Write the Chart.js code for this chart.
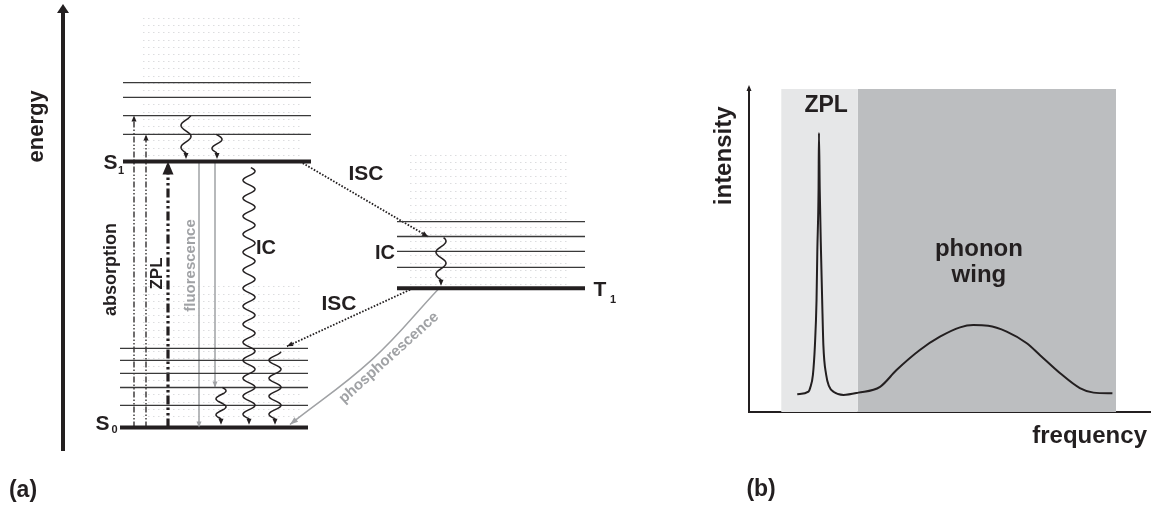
<!DOCTYPE html>
<html>
<head>
<meta charset="utf-8">
<title>Jablonski diagram and emission spectrum</title>
<script src="https://cdn.jsdelivr.net/npm/chart.js@4.4.1/dist/chart.umd.min.js"></script>
<style>
  html, body { margin: 0; padding: 0; background: #fff; }
  .panel { position: absolute; top: 0; }
  #panelA { left: 0; }
  #panelB { left: 690px; }
</style>
</head>
<body>
<canvas id="panelA" class="panel" width="690" height="506"></canvas>
<canvas id="panelB" class="panel" width="461" height="506"></canvas>
<script>
/* (a) Jablonski diagram and (b) ZPL + phonon-wing emission spectrum. */

// ---- (a) electronic levels, energies in units of the S0 -> S1 gap ----
const S0 = 0, S1 = 1.0, T1 = 0.523;
const s0Vib = [0.083, 0.150, 0.203, 0.252, 0.297];
const s1Vib = [1.102, 1.173, 1.241, 1.297];
const t1Vib = [0.602, 0.662, 0.718, 0.774];
// vibrational quasi-continuum [bottom, top]
const s0Band = [0.03, 0.53];
const s1Band = [1.015, 1.54];
const t1Band = [0.53, 1.026];

// ---- (b) spectrum, arbitrary frequency / intensity units ----
const freq = [12.0, 14.8, 15.2, 15.9, 16.4, 16.8, 17.0, 17.3, 17.4, 17.6, 17.9, 18.2, 18.5, 19.2, 19.9, 21.1,
              23.5, 27.2, 32.6, 36.7, 42.5, 47.5, 52.5, 55.8, 59.5, 64.1, 69.1, 72.4, 77.4, 82.3, 85.7, 90.4];
const intensity = [0.055, 0.063, 0.074, 0.115, 0.207, 0.347, 0.502, 0.687, 0.864, 0.687, 0.502, 0.347, 0.207, 0.115, 0.080, 0.062,
                   0.053, 0.060, 0.078, 0.130, 0.192, 0.233, 0.262, 0.269, 0.267, 0.249, 0.213, 0.176, 0.120, 0.074, 0.060, 0.058];
const zplBand = [8.0, 27.1];
const wingBand = [27.1, 91.3];

const INK = "#231f20";
const GREY = "#a0a2a5";
const FONT = "'Liberation Sans', Arial, Helvetica, sans-serif";

// layout of the diagram (x in diagram units, 1 unit = 1px right of the energy axis)
const L = {
  s0: [57, 245], s1: [60, 248], t1: [334, 522],
  dotsS: [80, 235], dotsT: [347, 504],
  absX: [71, 83], zplX: 105, fluX: [136, 152],
  isc1: [237, 365], isc2: [350, 224],
  phos: [375, 309, 227]
};

function seg(points, style) {
  return Object.assign({
    type: "line", data: points, pointRadius: 0, borderWidth: 1.3, borderColor: INK,
    fill: false, clip: false, tension: 0
  }, style || {});
}
const level = (span, E, thick) => seg([{ x: span[0], y: E }, { x: span[1], y: E }],
  thick ? { borderWidth: 4 } : { borderWidth: 1.3, borderColor: "#3a3a3a" });

const dsA = [];
[[L.s0, S0], [L.s1, S1], [L.t1, T1]].forEach(([sp, E]) => dsA.push(level(sp, E, true)));
s0Vib.forEach(E => dsA.push(level(L.s0, E)));
s1Vib.forEach(E => dsA.push(level(L.s1, E)));
t1Vib.forEach(E => dsA.push(level(L.t1, E)));

// absorption (thin dash-dot-dot) and zero-phonon line
const absTo = [s1Vib[1], s1Vib[0]];
L.absX.forEach((x, i) => dsA.push(seg([{ x, y: S0 }, { x, y: absTo[i] }],
  { borderDash: [6, 2, 1.5, 2, 1.5, 2], head: [6, 5] })));
dsA.push(seg([{ x: L.zplX, y: S0 }, { x: L.zplX, y: S1 }],
  { borderWidth: 3.2, borderDash: [9, 3, 2.5, 3, 2.5, 3], head: [13, 11] }));

// fluorescence
const fluTo = [S0, s0Vib[1]];
L.fluX.forEach((x, i) => dsA.push(seg([{ x, y: S1 }, { x, y: fluTo[i] }],
  { borderColor: GREY, borderWidth: 1.5, head: [6, 5] })));

// intersystem crossing
dsA.push(seg([{ x: L.isc1[0], y: S1 }, { x: L.isc1[1], y: t1Vib[2] }],
  { borderWidth: 1.8, borderDash: [1.6, 1.6], head: [6, 5] }));
dsA.push(seg([{ x: L.isc2[0], y: T1 }, { x: L.isc2[1], y: 0.305 }],
  { borderWidth: 1.8, borderDash: [1.6, 1.6], head: [6, 5] }));

// phosphorescence
dsA.push(seg([{ x: L.phos[0], y: 0.519 }, { x: L.phos[1], y: 0.255 }, { x: L.phos[2], y: 0.011 }],
  { borderColor: GREY, borderWidth: 1.5, tension: 0.4, head: [8, 6] }));

// internal conversion / vibrational relaxation (wavy arrows)
const waves = [
  { x: 123, from: s1Vib[1], to: S1 + 0.01, amp: 5, wl: 22 },
  { x: 154, from: s1Vib[0], to: S1 + 0.01, amp: 5, wl: 18 },
  { x: 186, from: 0.977, to: S0 + 0.01, amp: 6, wl: 18 },
  { x: 158, from: s0Vib[1], to: S0 + 0.01, amp: 5, wl: 16 },
  { x: 212, from: 0.285, to: S0 + 0.01, amp: 6, wl: 18 },
  { x: 378, from: 0.714, to: T1 + 0.01, amp: 5, wl: 22 }
];

const labelsA = [
  { t: "energy", x: -26, y: 1.132, size: 22, rot: -90 },
  { t: "absorption", x: 48, y: 0.594, size: 18, rot: -90 },
  { t: "ZPL", x: 94, y: 0.579, size: 17, rot: -90 },
  { t: "fluorescence", x: 128, y: 0.609, size: 15, rot: -90, color: GREY },
  { t: "IC", x: 203, y: 0.673, size: 20 },
  { t: "ISC", x: 303, y: 0.951, size: 21 },
  { t: "IC", x: 322, y: 0.654, size: 20 },
  { t: "ISC", x: 276, y: 0.462, size: 21 },
  { t: "phosphorescence", x: 326, y: 0.262, size: 15, rot: -42, color: GREY },
  { t: "S", x: 47.5, y: 0.992, size: 21 }, { t: "1", x: 58, y: 0.966, size: 11 },
  { t: "S", x: 39.5, y: 0.011, size: 21 }, { t: "0", x: 51.5, y: -0.011, size: 11 },
  { t: "T", x: 537, y: 0.515, size: 21 }, { t: "1", x: 550, y: 0.481, size: 11 },
  { t: "(a)", x: -40, y: -0.237, size: 23 }
];

const labelsB = [
  { t: "ZPL", x: 19.2, y: 0.947, size: 23 },
  { t: "phonon", x: 57.2, y: 0.505, size: 24 },
  { t: "wing", x: 57.2, y: 0.424, size: 24 },
  { t: "intensity", x: -6.2, y: 0.793, size: 24, rot: -90 },
  { t: "frequency", x: 99.0, y: -0.077, size: 24, align: "right" },
  { t: "(b)", x: 3.0, y: -0.241, size: 23 }
];

function head(ctx, x, y, ang, len, w, color) {
  ctx.save();
  ctx.translate(x, y); ctx.rotate(ang);
  ctx.beginPath(); ctx.moveTo(0, 0); ctx.lineTo(-len, -w / 2); ctx.lineTo(-len, w / 2); ctx.closePath();
  ctx.fillStyle = color; ctx.fill();
  ctx.restore();
}

function drawLabels(chart, list) {
  const { ctx, scales: { x, y } } = chart;
  list.forEach(l => {
    ctx.save();
    ctx.translate(x.getPixelForValue(l.x), y.getPixelForValue(l.y));
    if (l.rot) ctx.rotate(l.rot * Math.PI / 180);
    ctx.font = `bold ${l.size}px ${FONT}`;
    ctx.fillStyle = l.color || INK;
    ctx.textAlign = l.align || "center";
    ctx.textBaseline = "middle";
    ctx.fillText(l.t, 0, 0);
    ctx.restore();
  });
}

// light dotted texture for the vibrational continuum
function drawDots(chart, band, span) {
  const { ctx, scales: { x, y } } = chart;
  const x0 = x.getPixelForValue(span[0]), x1 = x.getPixelForValue(span[1]);
  const top = y.getPixelForValue(band[1]), bot = y.getPixelForValue(band[0]);
  ctx.save();
  ctx.fillStyle = "#dcdddf";
  for (let py = top; py <= bot; py += 7.2)
    for (let px = x0; px <= x1; px += 5) ctx.fillRect(Math.round(px), Math.round(py), 1.5, 1);
  ctx.restore();
}

function drawWave(chart, w) {
  const { ctx, scales: { x, y } } = chart;
  const cx = x.getPixelForValue(w.x);
  const y0 = y.getPixelForValue(w.from), y1 = y.getPixelForValue(w.to);
  const hl = 6, stem = y1 - hl - y0;
  ctx.save();
  ctx.beginPath();
  for (let t = 0; t <= stem; t += 0.5) {
    const px = cx + w.amp * Math.sin(2 * Math.PI * (t - stem) / w.wl);
    if (t === 0) ctx.moveTo(px, y0 + t); else ctx.lineTo(px, y0 + t);
  }
  ctx.lineTo(cx, y1 - hl + 1);
  ctx.strokeStyle = INK; ctx.lineWidth = 1.5; ctx.stroke();
  ctx.restore();
  head(ctx, cx, y1, Math.PI / 2, hl, 5, INK);
}

const diagramExtras = {
  id: "diagramExtras",
  beforeDatasetsDraw(chart) {
    drawDots(chart, s1Band, L.dotsS);
    drawDots(chart, s0Band, L.dotsS);
    drawDots(chart, t1Band, L.dotsT);
  },
  afterDatasetsDraw(chart) {
    const { ctx, chartArea } = chart;
    chart.data.datasets.forEach((ds, i) => {
      if (!ds.head) return;
      const pts = chart.getDatasetMeta(i).data;
      const end = pts[pts.length - 1], prev = pts[pts.length - 2];
      const fx = end.cp1x !== undefined && ds.tension ? end.cp1x : prev.x;
      const fy = end.cp1y !== undefined && ds.tension ? end.cp1y : prev.y;
      head(ctx, end.x, end.y, Math.atan2(end.y - fy, end.x - fx), ds.head[0], ds.head[1], ds.borderColor);
    });
    waves.forEach(w => drawWave(chart, w));
    // arrow tip of the energy axis
    head(ctx, chartArea.left, chartArea.top - 6, -Math.PI / 2, 9, 12, INK);
    drawLabels(chart, labelsA);
  }
};

const spectrumExtras = {
  id: "spectrumExtras",
  afterDatasetsDraw(chart) {
    const { ctx, chartArea } = chart;
    ctx.save();
    ctx.strokeStyle = INK; ctx.lineWidth = 2;
    ctx.beginPath(); ctx.moveTo(chartArea.left, chartArea.top); ctx.lineTo(chartArea.left, chartArea.top - 2); ctx.stroke();
    ctx.restore();
    head(ctx, chartArea.left, chartArea.top - 4, -Math.PI / 2, 6, 5, INK);
    drawLabels(chart, labelsB);
  }
};

const hiddenScale = (min, max) => ({ type: "linear", display: false, min, max });
const axisScale = (min, max, width) => ({
  type: "linear", min, max, display: true,
  ticks: { display: false },
  grid: { display: false, drawTicks: false },
  border: { display: true, color: INK, width }
});
const common = {
  responsive: false, animation: false, events: [],
  plugins: { legend: { display: false }, tooltip: { enabled: false } }
};

new Chart(document.getElementById("panelA"), {
  type: "line",
  data: { datasets: dsA },
  options: Object.assign({}, common, {
    layout: { padding: { left: 63, top: 10, right: 0, bottom: 56 } },
    scales: { x: hiddenScale(0, 627), y: axisScale(-0.085, 1.57, 4) }
  }),
  plugins: [diagramExtras]
});

const band = (span, color) => ({
  type: "line", data: [{ x: span[0], y: 1 }, { x: span[1], y: 1 }],
  borderWidth: 0, pointRadius: 0, backgroundColor: color, fill: "origin", order: 2
});

new Chart(document.getElementById("panelB"), {
  type: "line",
  data: {
    datasets: [
      {
        data: freq.map((f, i) => ({ x: f, y: intensity[i] })),
        borderColor: INK, borderWidth: 2, pointRadius: 0, fill: false,
        cubicInterpolationMode: "monotone", order: 0
      },
      band(zplBand, "#e6e7e8"),
      band(wingBand, "#bcbec0")
    ]
  },
  options: Object.assign({}, common, {
    layout: { padding: { left: 59, top: 89, right: 0, bottom: 94 } },
    scales: { x: axisScale(0, 100, 2), y: axisScale(0, 1, 2) }
  }),
  plugins: [spectrumExtras]
});
</script>
</body>
</html>
